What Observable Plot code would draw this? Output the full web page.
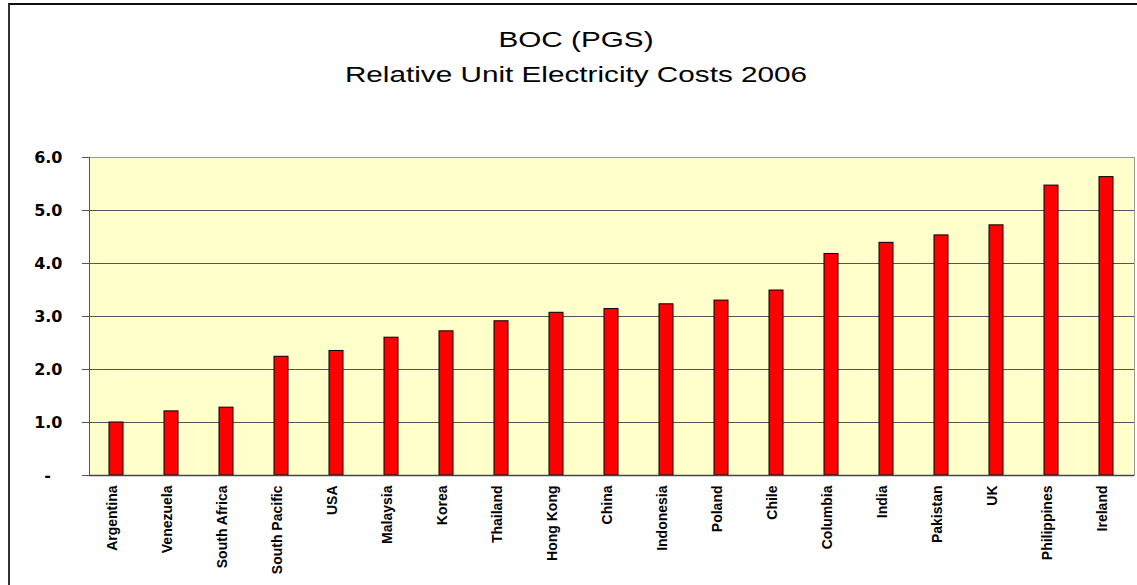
<!DOCTYPE html>
<html><head><meta charset="utf-8">
<script src="https://cdn.jsdelivr.net/npm/d3@7"></script>
<script src="https://cdn.jsdelivr.net/npm/@observablehq/plot@0.6"></script>
<style>
body{margin:0;background:#fff;}
#wrap{position:relative;width:1137px;height:585px;overflow:hidden;font-family:"Liberation Sans",Arial,sans-serif;}
#border{position:absolute;left:8px;top:3px;width:1200px;height:700px;border-top:2px solid #111;border-left:2px solid #333;}
.t{position:absolute;left:0;width:1152px;text-align:center;font-size:22px;color:#000;line-height:normal;white-space:nowrap;transform:scaleX(1.35);transform-origin:576px 0;}
#chart{position:absolute;left:0;top:0;}
</style></head><body>
<div id="wrap"><div id="border"></div>
<div class="t" style="top:27px">BOC (PGS)</div>
<div class="t" style="top:62px">Relative Unit Electricity Costs 2006</div>
<div id="chart"></div></div>
<script>
const countries = ["Argentina","Venezuela","South Africa","South Pacific","USA","Malaysia","Korea","Thailand","Hong Kong","China","Indonesia","Poland","Chile","Columbia","India","Pakistan","UK","Philippines","Ireland"];
const values = [1.00,1.21,1.28,2.24,2.35,2.60,2.72,2.91,3.07,3.14,3.23,3.30,3.49,4.18,4.39,4.53,4.72,5.47,5.63];
const yTicks = [0,1,2,3,4,5,6];

const data = countries.map((c,i)=>({country:c, value:values[i]}));
const font = "Liberation Sans, Arial, sans-serif";

const chart = Plot.plot({
  width:1137, height:585,
  marginLeft:89, marginRight:3, marginTop:157, marginBottom:110,
  style:{background:"transparent", fontFamily:font, color:"#000"},
  x:{domain:countries, paddingInner:0.745, paddingOuter:0.3725, label:null, axis:null},
  y:{domain:[0,6], label:null, axis:null},
  marks:[
    Plot.frame({fill:"#FFFFCC", stroke:"#9a9a9a"}),
    Plot.gridY(yTicks.filter(d=>d>0 && d<6), {stroke:"#555", strokeOpacity:1}),
    Plot.barY(data,{x:"country", y:"value", fill:"#FF0000", stroke:"#000", strokeWidth:1}),
    Plot.frame({anchor:"left", stroke:"#555"}),
    Plot.axisY({ticks:yTicks, tickSize:7, tickFormat:()=>"", stroke:"#555", strokeOpacity:1, label:null}),
    Plot.ruleY([0],{stroke:"#444", strokeWidth:1.5}),
    Plot.text(yTicks, {y:d=>d, frameAnchor:"left", dx:-27, textAnchor:"end",
      text:d=> d===0 ? "" : d.toFixed(1), fontSize:16, fontWeight:"bold", fontFamily:"DejaVu Sans"}),
    Plot.text([0], {y:d=>d, frameAnchor:"left", dx:-42, text:()=>"-", fontSize:16, fontWeight:"bold", fontFamily:"DejaVu Sans", textAnchor:"middle"}),
    Plot.text(countries, {x:d=>d, frameAnchor:"bottom", rotate:-90, textAnchor:"end", dy:10, fontSize:14, fontWeight:"bold"})
  ]
});
document.getElementById("chart").appendChild(chart);
</script>
</body></html>
